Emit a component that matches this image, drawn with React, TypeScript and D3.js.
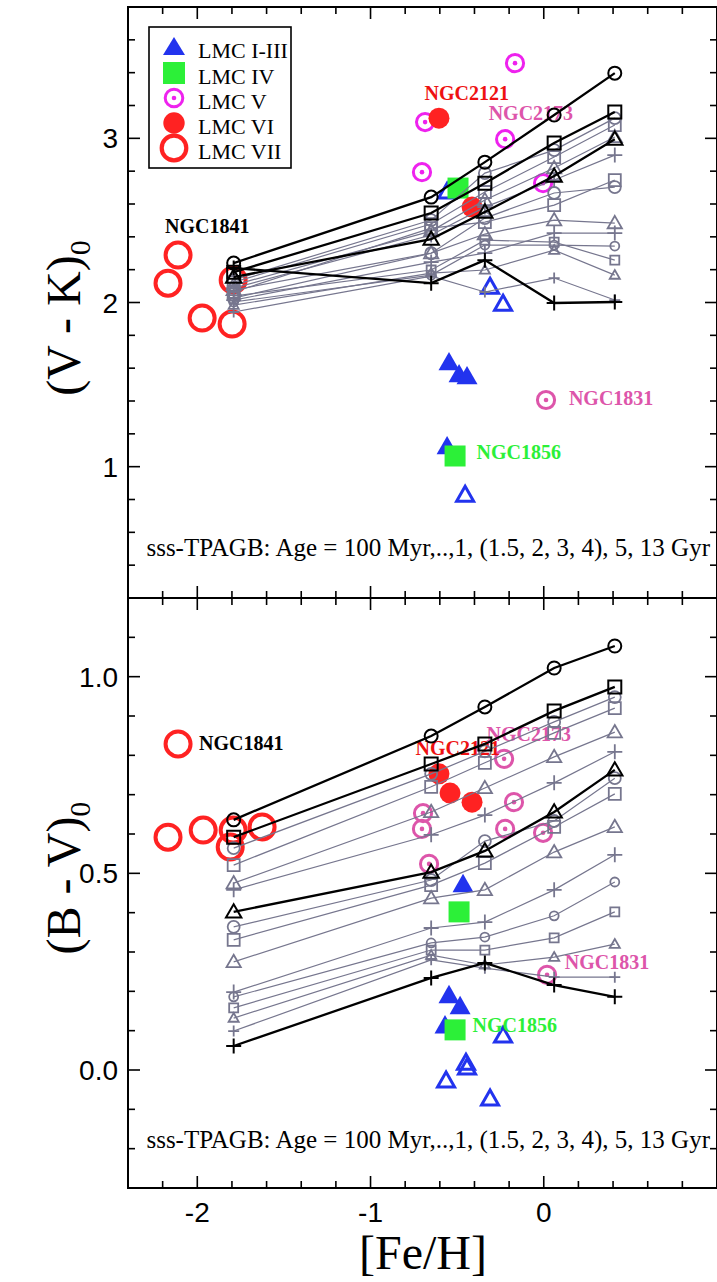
import React from 'react';
import * as d3 from 'd3';

const WIDTH = 717;
const HEIGHT = 1282;

// Model metallicity grid ([Fe/H]) shared by every isochrone age
const MODEL_FEH = [-1.79, -0.65, -0.34, 0.06, 0.41];

// Ages of the sss-TPAGB models, oldest first
const MODEL_AGES = ['13', '5', '4', '3', '2', '1.5', '1', '0.9', '0.8', '0.7', '0.6', '0.5', '0.4', '0.3', '0.2', '0.1'];

// (V - K)0 per age across MODEL_FEH
const MODEL_VK = [
  [2.240, 2.642, 2.855, 3.142, 3.397],
  [2.185, 2.545, 2.727, 2.971, 3.160],
  [2.137, 2.502, 2.788, 2.928, 3.123],
  [2.124, 2.478, 2.673, 2.886, 3.081],
  [2.106, 2.435, 2.624, 2.819, 3.008],
  [2.088, 2.411, 2.581, 2.746, 2.898],
  [2.155, 2.386, 2.551, 2.770, 2.995],
  [2.027, 2.300, 2.514, 2.667, 2.703],
  [2.064, 2.453, 2.490, 2.593, 2.746],
  [2.076, 2.301, 2.417, 2.502, 2.484],
  [2.015, 2.246, 2.301, 2.423, 2.423],
  [2.003, 2.167, 2.350, 2.350, 2.344],
  [2.039, 2.198, 2.380, 2.368, 2.258],
  [1.984, 2.179, 2.198, 2.319, 2.167],
  [1.942, 2.161, 2.064, 2.149, 2.015],
  [2.210, 2.118, 2.258, 1.997, 2.003],
];

// (B - V)0 per age across MODEL_FEH
const MODEL_BV = [
  [0.636, 0.849, 0.923, 1.022, 1.078],
  [0.592, 0.778, 0.829, 0.913, 0.974],
  [0.564, 0.753, 0.810, 0.885, 0.948],
  [0.521, 0.720, 0.781, 0.857, 0.920],
  [0.475, 0.656, 0.717, 0.796, 0.859],
  [0.458, 0.598, 0.648, 0.730, 0.809],
  [0.402, 0.503, 0.557, 0.656, 0.763],
  [0.364, 0.483, 0.582, 0.633, 0.742],
  [0.331, 0.470, 0.526, 0.618, 0.702],
  [0.275, 0.437, 0.458, 0.554, 0.618],
  [0.198, 0.361, 0.376, 0.458, 0.547],
  [0.186, 0.323, 0.338, 0.392, 0.478],
  [0.158, 0.305, 0.305, 0.336, 0.402],
  [0.132, 0.292, 0.267, 0.287, 0.320],
  [0.099, 0.280, 0.259, 0.236, 0.236],
  [0.061, 0.234, 0.272, 0.216, 0.186],
];

// LMC clusters, [Fe/H] and (V - K)0
const VK_I_III_FILLED = [[-0.547, 1.625], [-0.489, 1.552], [-0.443, 1.540], [-0.558, 1.114]];
const VK_I_III_OPEN = [[-0.558, 2.667], [-0.310, 2.088], [-0.235, 1.984], [-0.454, 0.821]];
const VK_IV = [[-0.495, 2.697], [-0.512, 1.065]];
const VK_V = [[-0.166, 3.458], [-0.685, 3.099], [-0.223, 2.995], [-0.703, 2.794], [-0.004, 2.727]];
const VK_V_NGC1831 = [[0.013, 1.406]];
const VK_VI = [[-0.605, 3.123], [-0.414, 2.581]];
const VK_VII = [[-2.111, 2.289], [-2.169, 2.118], [-1.793, 2.137], [-1.972, 1.905], [-1.799, 1.869]];

// LMC clusters, [Fe/H] and (B - V)0
const BV_I_III_FILLED = [[-0.466, 0.468], [-0.547, 0.186], [-0.483, 0.158], [-0.570, 0.109]];
const BV_I_III_OPEN = [[-0.564, -0.030], [-0.449, 0.015], [-0.443, 0.003], [-0.310, -0.076], [-0.235, 0.084]];
const BV_IV = [[-0.489, 0.402], [-0.512, 0.102]];
const BV_V = [[-0.229, 0.791], [-0.172, 0.681], [-0.697, 0.653], [-0.703, 0.613], [-0.223, 0.613], [-0.004, 0.603], [-0.662, 0.524], [0.019, 0.242]];
const BV_VI = [[-0.605, 0.753], [-0.541, 0.704], [-0.414, 0.681]];
const BV_VII = [[-2.111, 0.829], [-2.169, 0.592], [-1.966, 0.610], [-1.793, 0.610], [-1.626, 0.618], [-1.810, 0.567]];

// Cluster name labels, anchored at ([Fe/H], colour)
const VK_LABELS: [string, number, number][] = [
  ['NGC2121', -0.688, 3.233],
  ['NGC2173', -0.318, 3.111],
  ['NGC1841', -2.186, 2.423],
  ['NGC1831', 0.145, 1.375],
  ['NGC1856', -0.388, 1.047],
];
const BV_LABELS: [string, number, number][] = [
  ['NGC1841', -1.990, 0.814],
  ['NGC2121', -0.740, 0.801],
  ['NGC2173', -0.330, 0.837],
  ['NGC1831', 0.121, 0.257],
  ['NGC1856', -0.411, 0.097],
];

const LEGEND_ITEMS = ['LMC I-III', 'LMC IV', 'LMC V', 'LMC VI', 'LMC VII'];
const NOTE = 'sss-TPAGB: Age = 100 Myr,..,1, (1.5, 2, 3, 4), 5, 13 Gyr';

// ---- styling ----
const BLUE = '#2233ee';
const GREEN = '#2cf038';
const MAGENTA = '#ee22ee';
const PINK = '#dd55aa';
const RED = '#ff2222';
const GREY = '#76768e';
const LABEL_COLOR: Record<string, string> = {
  NGC2121: '#ee1111', NGC2173: PINK, NGC1841: '#000', NGC1831: PINK, NGC1856: GREEN,
};
const AGE_SHAPE = ['circle', 'square', 'circle', 'square', 'triangle', 'plus', 'triangle',
  'circle', 'square', 'triangle', 'plus', 'circle', 'square', 'triangle', 'plus', 'plus'];
const AGE_BOLD = MODEL_AGES.map((a) => a === '13' || a === '5' || a === '1' || a === '0.1');
const AGE_SMALL = MODEL_AGES.map((a) => ['0.5', '0.4', '0.3', '0.2'].includes(a));

const SANS = '"Liberation Sans", Arial, Helvetica, sans-serif';
const SERIF = '"Liberation Serif", "Times New Roman", Times, serif';

const x = d3.scaleLinear().domain([-2.4, 1.0]).range([128, 717]);
const yTop = d3.scaleLinear().domain([0.2, 3.8]).range([598, 7]);
const yBot = d3.scaleLinear().domain([-0.3, 1.2]).range([1188, 598]);

function markerPath(shape: string, r: number): string {
  switch (shape) {
    case 'circle':
      return `M${-r},0A${r},${r} 0 1,1 ${r},0A${r},${r} 0 1,1 ${-r},0Z`;
    case 'square':
      return `M${-r},${-r}H${r}V${r}H${-r}Z`;
    case 'triangle':
      return `M0,${-r * 1.1}L${r * 1.1},${r * 0.8}L${-r * 1.1},${r * 0.8}Z`;
    default:
      return `M${-r},0H${r}M0,${-r}V${r}`;
  }
}

function markerRadius(shape: string, bold: boolean, small: boolean): number {
  if (shape === 'plus') return small ? 5.5 : 7.5;
  if (shape === 'triangle') return small ? 4.6 : bold ? 7 : 6.5;
  return small ? 4.5 : bold ? 6.5 : 6;
}

const snap = (v: number) => Math.round(v * 1000) / 1000;

type Scale = d3.ScaleLinear<number, number>;

function Frame({ y, minorStep, isMajor, labels, showX }: {
  y: Scale; minorStep: number; isMajor: (v: number) => boolean;
  labels: { v: number; t: string }[]; showX: boolean;
}) {
  const [yb, yt] = y.range();
  const [x0, x1] = x.range();
  const [d0, d1] = y.domain();
  const yTicks = d3.range(d0, d1 + 1e-6, minorStep).map(snap);
  const xTicks = d3.range(-2.4, 1.0 + 1e-6, 0.2).map(snap);
  const xMajor = (v: number) => Math.abs(v - Math.round(v)) < 1e-6;
  const MAJ = 12;
  const MIN = 7;
  return (
    <g stroke="#000" strokeWidth={1.6}>
      <rect x={x0} y={yt} width={x1 - x0} height={yb - yt} fill="none" strokeWidth={2} />
      {yTicks.map((v) => {
        const len = isMajor(v) ? MAJ : MIN;
        return (
          <g key={`y${v}`}>
            <line x1={x0} x2={x0 + len} y1={y(v)} y2={y(v)} />
            <line x1={x1} x2={x1 - len} y1={y(v)} y2={y(v)} />
          </g>
        );
      })}
      {xTicks.map((v) => {
        const len = xMajor(v) ? MAJ : MIN;
        return (
          <g key={`x${v}`}>
            <line x1={x(v)} x2={x(v)} y1={yt} y2={yt + len} />
            <line x1={x(v)} x2={x(v)} y1={yb} y2={yb - len} />
          </g>
        );
      })}
      <g stroke="none" fill="#000" fontFamily={SANS} fontSize={28} textAnchor="end">
        {labels.map((l) => (
          <text key={l.t} x={x0 - 10} y={y(l.v)} dy="0.36em">{l.t}</text>
        ))}
      </g>
      {showX && (
        <g stroke="none" fill="#000" fontFamily={SANS} fontSize={28} textAnchor="middle">
          {[-2, -1, 0].map((v) => (
            <text key={v} x={x(v)} y={yb + 34}>{v === 0 ? '0' : `-${Math.abs(v)}`}</text>
          ))}
        </g>
      )}
    </g>
  );
}

function Models({ y, values }: { y: Scale; values: number[][] }) {
  const line = d3.line<number>().x((_, i) => x(MODEL_FEH[i])).y((v) => y(v));
  const order = d3.range(values.length).sort((a, b) => Number(AGE_BOLD[a]) - Number(AGE_BOLD[b]));
  return (
    <g fill="none">
      {order.map((k) => {
        const bold = AGE_BOLD[k];
        const color = bold ? '#000' : GREY;
        const r = markerRadius(AGE_SHAPE[k], bold, AGE_SMALL[k]);
        return (
          <g key={MODEL_AGES[k]} stroke={color}>
            <path d={line(values[k]) ?? ''} strokeWidth={bold ? 2.3 : 1.2} />
            {values[k].map((v, i) => (
              <path
                key={i}
                transform={`translate(${x(MODEL_FEH[i])},${y(v)})`}
                d={markerPath(AGE_SHAPE[k], r)}
                strokeWidth={bold ? 2 : 1.8}
              />
            ))}
          </g>
        );
      })}
    </g>
  );
}

function ClusterPoints({ y, filled, open, iv, v, vColor, vExtra, vExtraColor, vi, vii }: {
  y: Scale; filled: number[][]; open: number[][]; iv: number[][]; v: number[][]; vColor: string;
  vExtra: number[][]; vExtraColor: string; vi: number[][]; vii: number[][];
}) {
  const tri = (r: number) => `M0,${-r * 1.15}L${r},${r * 0.6}L${-r},${r * 0.6}Z`;
  const ring = (d: number[], color: string, key: string) => (
    <g key={key} transform={`translate(${x(d[0])},${y(d[1])})`}>
      <circle r={8.6} fill="none" stroke={color} strokeWidth={3} />
      <circle r={2.3} fill={color} />
    </g>
  );
  return (
    <g>
      {vii.map((d, i) => (
        <circle key={`vii${i}`} cx={x(d[0])} cy={y(d[1])} r={12.5} fill="none" stroke={RED} strokeWidth={4} />
      ))}
      {v.map((d, i) => ring(d, vColor, `v${i}`))}
      {vExtra.map((d, i) => ring(d, vExtraColor, `ve${i}`))}
      {open.map((d, i) => (
        <path key={`o${i}`} transform={`translate(${x(d[0])},${y(d[1])})`} d={tri(8.5)} fill="none" stroke={BLUE} strokeWidth={3} />
      ))}
      {filled.map((d, i) => (
        <path key={`f${i}`} transform={`translate(${x(d[0])},${y(d[1])})`} d={tri(10.5)} fill={BLUE} />
      ))}
      {iv.map((d, i) => (
        <rect key={`iv${i}`} x={x(d[0]) - 10.5} y={y(d[1]) - 10.5} width={21} height={21} fill={GREEN} />
      ))}
      {vi.map((d, i) => (
        <circle key={`vi${i}`} cx={x(d[0])} cy={y(d[1])} r={10.5} fill={RED} />
      ))}
    </g>
  );
}

function ClusterLabels({ y, labels }: { y: Scale; labels: [string, number, number][] }) {
  return (
    <g fontFamily={SERIF} fontWeight="bold" fontSize={20}>
      {labels.map(([t, f, v]) => (
        <text key={t} x={x(f)} y={y(v)} fill={LABEL_COLOR[t]}>{t}</text>
      ))}
    </g>
  );
}

function Legend() {
  const x0 = 149;
  const y0 = 27;
  const rows = [47, 73, 98, 123, 148];
  const sx = 174;
  return (
    <g>
      <rect x={x0} y={y0} width={142} height={141} fill="#fff" stroke="#000" strokeWidth={1.6} />
      <path transform={`translate(${sx},${rows[0]})`} d="M0,-10L11,8L-11,8Z" fill={BLUE} />
      <rect x={sx - 11} y={rows[1] - 11} width={22} height={22} fill={GREEN} />
      <g transform={`translate(${sx},${rows[2]})`}>
        <circle r={8.8} fill="none" stroke={MAGENTA} strokeWidth={3} />
        <circle r={2.3} fill={MAGENTA} />
      </g>
      <circle cx={sx} cy={rows[3]} r={10.7} fill={RED} />
      <circle cx={sx} cy={rows[4]} r={12.3} fill="none" stroke={RED} strokeWidth={4.2} />
      <g fontFamily={SERIF} fontSize={22} fill="#000">
        {LEGEND_ITEMS.map((t, i) => (
          <text key={t} x={198} y={rows[i] + 3} dy="0.35em">{t}</text>
        ))}
      </g>
    </g>
  );
}

function YTitle({ cx, cy, main }: { cx: number; cy: number; main: string }) {
  return (
    <text transform={`translate(${cx},${cy}) rotate(-90)`} textAnchor="middle" fontFamily={SERIF} fontSize={48} fill="#000">
      {main}
      <tspan fontSize={30} dy={10}>0</tspan>
    </text>
  );
}

export default function App() {
  return (
    <svg
      width={WIDTH}
      height={HEIGHT}
      viewBox={`0 0 ${WIDTH} ${HEIGHT}`}
      style={{ position: 'absolute', left: 0, top: 0, background: '#fff' }}
    >
      <rect width={WIDTH} height={HEIGHT} fill="#fff" />

      {/* (V - K)0 panel */}
      <Frame
        y={yTop}
        minorStep={0.2}
        isMajor={(v) => Math.abs(v - Math.round(v)) < 1e-6}
        labels={[{ v: 1, t: '1' }, { v: 2, t: '2' }, { v: 3, t: '3' }]}
        showX={false}
      />
      <ClusterPoints
        y={yTop}
        filled={VK_I_III_FILLED}
        open={VK_I_III_OPEN}
        iv={VK_IV}
        v={VK_V}
        vColor={MAGENTA}
        vExtra={VK_V_NGC1831}
        vExtraColor={PINK}
        vi={VK_VI}
        vii={VK_VII}
      />
      <ClusterLabels y={yTop} labels={VK_LABELS} />
      <Models y={yTop} values={MODEL_VK} />
      <text x={710} y={556} textAnchor="end" fontFamily={SERIF} fontSize={25} fill="#000">{NOTE}</text>
      <Legend />
      <YTitle cx={80} cy={318} main="(V - K)" />

      {/* (B - V)0 panel */}
      <Frame
        y={yBot}
        minorStep={0.1}
        isMajor={(v) => Math.abs(v * 2 - Math.round(v * 2)) < 1e-6}
        labels={[{ v: 0, t: '0.0' }, { v: 0.5, t: '0.5' }, { v: 1, t: '1.0' }]}
        showX
      />
      <ClusterPoints
        y={yBot}
        filled={BV_I_III_FILLED}
        open={BV_I_III_OPEN}
        iv={BV_IV}
        v={BV_V}
        vColor={PINK}
        vExtra={[]}
        vExtraColor={PINK}
        vi={BV_VI}
        vii={BV_VII}
      />
      <ClusterLabels y={yBot} labels={BV_LABELS} />
      <Models y={yBot} values={MODEL_BV} />
      <text x={710} y={1148} textAnchor="end" fontFamily={SERIF} fontSize={25} fill="#000">{NOTE}</text>
      <YTitle cx={80} cy={878} main="(B - V)" />

      <text x={423} y={1269} textAnchor="middle" fontFamily={SERIF} fontSize={48} fill="#000">[Fe/H]</text>
    </svg>
  );
}
